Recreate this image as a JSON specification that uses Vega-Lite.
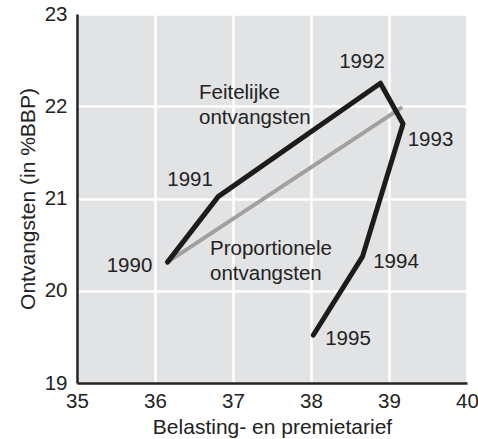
{
  "$schema": "https://vega.github.io/schema/vega-lite/v6.json",
  "autosize": "none",
  "width": 390,
  "height": 369,
  "padding": {"left": 77, "top": 14, "right": 11, "bottom": 56},
  "background": "white",
  "config": {
    "font": "Liberation Sans",
    "view": {"fill": "#e2e3e5", "stroke": null},
    "axis": {
      "grid": true,
      "gridColor": "white",
      "gridWidth": 2.5,
      "gridOpacity": 1,
      "domainColor": "#222222",
      "domainWidth": 2.5,
      "ticks": false,
      "labelFont": "Liberation Sans",
      "labelFontSize": 20.5,
      "labelColor": "#222222",
      "titleFont": "Liberation Sans",
      "titleFontSize": 21,
      "titleFontWeight": "normal",
      "titleColor": "#222222"
    }
  },
  "datasets": {
    "feitelijk": [
      {"jaar": 1990, "tarief": 36.16, "ontv": 20.31},
      {"jaar": 1991, "tarief": 36.81, "ontv": 21.02},
      {"jaar": 1992, "tarief": 38.89, "ontv": 22.25},
      {"jaar": 1993, "tarief": 39.18, "ontv": 21.81},
      {"jaar": 1994, "tarief": 38.66, "ontv": 20.37},
      {"jaar": 1995, "tarief": 38.03, "ontv": 19.52}
    ],
    "proportioneel": [
      {"jaar": 1990, "tarief": 36.16, "ontv": 20.31},
      {"jaar": 1993, "tarief": 39.17, "ontv": 21.99}
    ],
    "jaartallen": [
      {"label": "1990", "tarief": 35.673, "ontv": 20.207},
      {"label": "1991", "tarief": 36.449, "ontv": 21.135},
      {"label": "1992", "tarief": 38.654, "ontv": 22.411},
      {"label": "1993", "tarief": 39.532, "ontv": 21.572},
      {"label": "1994", "tarief": 39.09, "ontv": 20.243},
      {"label": "1995", "tarief": 38.474, "ontv": 19.412}
    ],
    "annotaties": [
      {"label": "Feitelijke\nontvangsten", "tarief": 36.564, "ontv": 22.075},
      {"label": "Proportionele\nontvangsten", "tarief": 36.705, "ontv": 20.387}
    ]
  },
  "layer": [
    {
      "data": {"name": "proportioneel"},
      "mark": {"type": "line", "color": "#a0a0a0", "strokeWidth": 4, "strokeCap": "butt"},
      "encoding": {
        "x": {
          "field": "tarief", "type": "quantitative",
          "scale": {"domain": [35, 40], "nice": false, "zero": false},
          "axis": {"values": [35, 36, 37, 38, 39, 40], "format": "d", "title": "Belasting- en premietarief", "labelPadding": 8, "titlePadding": 5, "labelFlush": false}
        },
        "y": {
          "field": "ontv", "type": "quantitative",
          "scale": {"domain": [19, 23], "nice": false, "zero": false},
          "axis": {"values": [19, 20, 21, 22, 23], "format": "d", "title": "Ontvangsten (in %BBP)", "labelPadding": 10, "titlePadding": 6, "labelFlush": false}
        },
        "order": {"field": "jaar", "type": "quantitative"}
      }
    },
    {
      "data": {"name": "feitelijk"},
      "mark": {"type": "line", "color": "#1c1c1c", "strokeWidth": 5, "strokeJoin": "round", "strokeCap": "round"},
      "encoding": {
        "x": {"field": "tarief", "type": "quantitative"},
        "y": {"field": "ontv", "type": "quantitative"},
        "order": {"field": "jaar", "type": "quantitative"}
      }
    },
    {
      "data": {"name": "jaartallen"},
      "mark": {"type": "text", "fontSize": 20.5, "color": "#222222", "align": "center", "baseline": "alphabetic"},
      "encoding": {
        "x": {"field": "tarief", "type": "quantitative"},
        "y": {"field": "ontv", "type": "quantitative"},
        "text": {"field": "label"}
      }
    },
    {
      "data": {"name": "annotaties"},
      "mark": {"type": "text", "fontSize": 20.5, "color": "#222222", "align": "left", "baseline": "alphabetic", "lineBreak": "\n", "lineHeight": 25},
      "encoding": {
        "x": {"field": "tarief", "type": "quantitative"},
        "y": {"field": "ontv", "type": "quantitative"},
        "text": {"field": "label"}
      }
    }
  ]
}
